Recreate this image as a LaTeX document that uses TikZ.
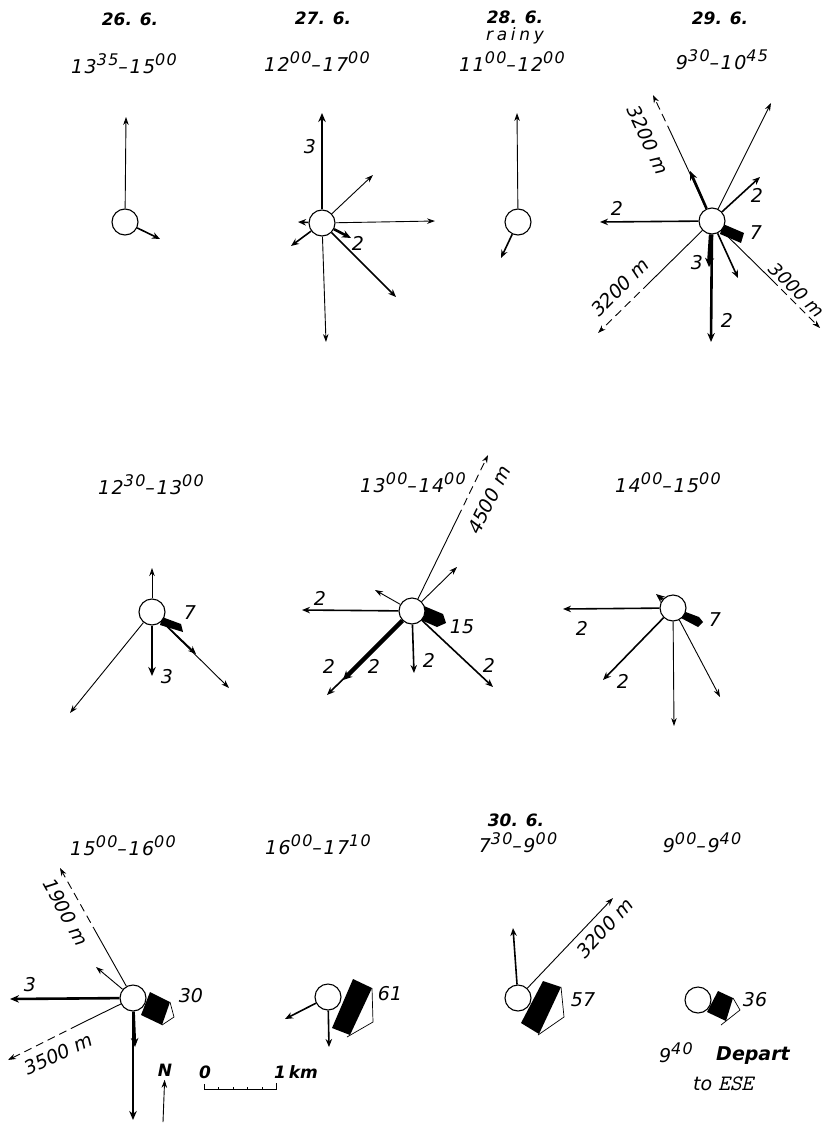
\documentclass[tikz,border=0pt]{standalone}
\usepackage{fontspec}
\setmainfont{DejaVu Sans}
\usetikzlibrary{arrows.meta}

% raised minutes in the time spans
\newcommand{\up}[1]{\raisebox{0.42em}{\fontsize{16}{16}\selectfont #1}}
\newcommand{\period}[4]{#1\up{#2}–#3\up{#4}}

\begin{document}
\begin{tikzpicture}[x=1pt,y=-1pt,
    hive/.style={circle,draw,line width=1.1pt,minimum size=26pt,inner sep=0pt,fill=white},
    path1/.style={line width=0.9pt},
    trip/.style={line width=0.9pt,-{Stealth[length=8pt,width=5.5pt]}},
    trip2/.style={line width=1.6pt,-{Stealth[length=8pt,width=6.5pt]}},
    trip3/.style={line width=2.6pt,-{Stealth[length=9pt,width=7.5pt]}},
    trip4/.style={line width=4.5pt,-{Stealth[length=9pt,width=9pt]}},
    gap/.style={dash pattern=on 8pt off 5pt},
    dance/.style={fill=black},
    fan/.style={line width=0.7pt},
    num/.style={font=\fontsize{19}{19}\selectfont\itshape,inner sep=1pt},
    dist/.style={font=\fontsize{19}{19}\selectfont\itshape,inner sep=1pt},
    day/.style={font=\fontsize{17}{17}\selectfont\bfseries\itshape},
    hour/.style={font=\fontsize{19}{19}\selectfont\itshape\addfontfeature{LetterSpace=8}},
  ]
  % page frame
  \useasboundingbox (0,0) rectangle (831,1124);

  % 26.6.
  \node[day] (d1) at (130,19) {26. 6.};
  \node[hour] (t1) at (124,64) {\period{13}{35}{15}{00}};
  \node[hive] (h1) at (125,222) {};
  \draw[trip] (h1) -- ++(1,-105);
  \draw[trip2] (h1) -- ++(35,17);

  % 27.6.
  \node[day] (d2) at (323,18) {27. 6.};
  \node[hour] (t2) at (317,62) {\period{12}{00}{17}{00}};
  \node[hive] (h2) at (322,223) {};
  \draw[trip3] (h2) -- ++(0,-110);
  \node[num] (n2a) at (310,147) {3};
  \draw[trip] (h2) -- ++(51,-48);
  \draw[trip] (h2) -- ++(113,-2);
  \draw[trip2] (h2) -- ++(-24,-1);
  \draw[trip2] (h2) -- ++(-31,23);
  \draw[trip3] (h2) -- ++(29,15);
  \node[num] (n2b) at (358,243) {2};
  \draw[trip2] (h2) -- ++(74,74);
  \draw[trip] (h2) -- ++(4,119);

  % 28.6.
  \node[day] (d3) at (515,17) {28. 6.};
  \node[font=\fontsize{17}{17}\selectfont\itshape\addfontfeature{LetterSpace=22}] (w3) at (515,36) {rainy};
  \node[hour] (t3) at (512,62) {\period{11}{00}{12}{00}};
  \node[hive] (h3) at (518,222) {};
  \draw[trip] (h3) -- ++(-1,-109);
  \draw[trip2] (h3) -- ++(-17,36);

  % 29.6.
  \node[day] (d4) at (720,18) {29. 6.};
  \node[hour] (t4) at (722,60) {\period{9}{30}{10}{45}};
  \fill[dance] (723,224) -- (744,233) -- (741,243) -- (720,234) -- cycle;
  \node[hive] (h4) at (712,221) {};
  \draw[trip3] (h4) -- ++(-22,-50);
  \draw[path1] (h4) -- ++(-41,-88) coordinate (e4a);
  \draw[trip,gap] (e4a) -- ++(-18,-38);
  \node[dist,rotate=-65] (m4a) at (648,140) {3200 m};
  \draw[trip] (h4) -- ++(59,-118);
  \draw[trip2] (h4) -- ++(48,-44);
  \node[num] (n4b) at (757,195) {2};
  \draw[trip2] (h4) -- ++(-112,1);
  \node[num] (n4c) at (617,208) {2};
  \node[num] (n4d) at (756,233) {7};
  \draw[path1] (h4) -- ++(-63,62) coordinate (e4b);
  \draw[trip,gap] (e4b) -- ++(-51,50);
  \node[dist,rotate=45] (m4b) at (620,287) {3200 m};
  \draw[trip3] (h4) -- ++(-1,121);
  \node[num] (n4e) at (727,320) {2};
  \draw[trip4] (h4) -- ++(-3,46);
  \node[num] (n4f) at (697,263) {3};
  \draw[trip2] (h4) -- ++(26,57);
  \draw[path1] (h4) -- ++(60,59) coordinate (e4c);
  \draw[trip,gap] (e4c) -- ++(48,48);
  \node[dist,rotate=-45,font=\fontsize{18}{18}\selectfont\itshape] (m4c) at (797,290) {3000 m};

  % 12.30 - 13.00
  \node[hour] (t5) at (151,485) {\period{12}{30}{13}{00}};
  \fill[dance] (162,617) -- (181,624) -- (183,632) -- (160,625) -- cycle;
  \node[hive] (h5) at (152,612) {};
  \draw[trip] (h5) -- ++(0,-44);
  \draw[trip3] (h5) -- ++(0,64);
  \node[num] (n5a) at (167,677) {3};
  \draw[trip2] (h5) -- ++(44,42);
  \draw[trip] (h5) -- ++(77,76);
  \node[num] (n5b) at (190,613) {7};
  \draw[trip] (h5) -- ++(-82,101);

  % 13.00 - 14.00
  \node[hour] (t6) at (413,483) {\period{13}{00}{14}{00}};
  \fill[dance] (424,606) -- (443,614) -- (446,623) -- (437,627) -- (421,620) -- cycle;
  \node[hive] (h6) at (412,611) {};
  \draw[path1] (h6) -- ++(46,-94) coordinate (e6a);
  \draw[trip,gap] (e6a) -- ++(30,-62);
  \node[dist,rotate=64] (m6a) at (489,500) {4500 m};
  \draw[trip] (h6) -- ++(45,-44);
  \draw[trip] (h6) -- ++(-37,-21);
  \draw[trip2] (h6) -- ++(-110,-1);
  \node[num] (n6a) at (320,598) {2};
  \draw[trip2] (h6) -- ++(-85,84);
  \draw[trip4] (h6) -- ++(-69,69);
  \node[num] (n6b) at (329,666) {2};
  \node[num] (n6c) at (374,666) {2};
  \draw[trip2] (h6) -- ++(2,62);
  \node[num] (n6d) at (429,660) {2};
  \node[num] (n6e) at (462,627) {15};
  \draw[trip2] (h6) -- ++(81,76);
  \node[num] (n6f) at (489,665) {2};

  % 14.00 - 15.00
  \node[hour] (t7) at (668,483) {\period{14}{00}{15}{00}};
  \fill[dance] (683,611) -- (699,617) -- (703,622) -- (698,627) -- (681,618) -- cycle;
  \node[hive] (h7) at (673,608) {};
  \draw[trip3] (h7) -- ++(-17,-14);
  \draw[trip2] (h7) -- ++(-110,1);
  \node[num] (n7a) at (582,628) {2};
  \node[num] (n7b) at (715,620) {7};
  \draw[trip2] (h7) -- ++(-70,72);
  \node[num] (n7c) at (623,681) {2};
  \draw[trip] (h7) -- ++(1,118);
  \draw[trip] (h7) -- ++(47,89);

  % 15.00 - 16.00
  \node[hour] (t8) at (123,846) {\period{15}{00}{16}{00}};
  \fill[dance] (150,992) -- (170,1002) -- (162,1025) -- (141,1015) -- cycle;
  \draw[fan] (170,1002) -- (174,1017) -- (162,1025);
  \node[hive] (h8) at (133,998) {};
  \draw[path1] (h8) -- ++(-36,-64) coordinate (e8a);
  \draw[trip,gap] (e8a) -- ++(-37,-66);
  \node[dist,rotate=-61] (m8a) at (66,912) {1900 m};
  \draw[trip] (h8) -- ++(-37,-31);
  \draw[trip3] (h8) -- ++(-123,1);
  \node[num] (n8a) at (30,985) {3};
  \draw[path1] (h8) -- ++(-55,27) coordinate (e8b);
  \draw[trip,gap] (e8b) -- ++(-70,35);
  \node[dist,rotate=25] (m8b) at (58,1054) {3500 m};
  \draw[trip3] (h8) -- ++(0,122);
  \draw[trip3] (h8) -- ++(2,49);
  \node[num] (n8b) at (191,996) {30};

  % north arrow and scale bar
  \node[day] (north) at (165,1070) {N};
  \coordinate (nfoot) at (163,1122);
  \draw[trip] (nfoot) -- (north);
  \node[day] (s0) at (205,1072) {0};
  \node[day] (s1) at (296,1072) {1\,km};
  \draw[fan] (204,1084) -- (204,1089) -- (276,1089) -- (276,1083);
  \foreach \x in {218,233,247,262} \draw[fan] (\x,1089) -- (\x,1087);

  % 16.00 - 17.10
  \node[hour] (t9) at (318,845) {\period{16}{00}{17}{10}};
  \fill[dance] (353,979) -- (372,988) -- (350,1035) -- (332,1028) -- cycle;
  \draw[fan] (372,988) -- (373,1022) -- (347,1037);
  \node[hive] (h9) at (328,997) {};
  \draw[trip2] (h9) -- ++(-43,22);
  \draw[trip2] (h9) -- ++(1,50);
  \node[num] (n9a) at (390,994) {61};

  % 30.6. 7.30 - 9.00
  \node[day] (d10) at (516,820) {30. 6.};
  \node[hour] (t10) at (518,843) {\period{7}{30}{9}{00}};
  \fill[dance] (543,981) -- (561,987) -- (539,1034) -- (521,1023) -- cycle;
  \draw[fan] (561,987) -- (564,1017) -- (538,1035);
  \node[hive] (h10) at (518,998) {};
  \draw[trip2] (h10) -- ++(-5,-70);
  \draw[trip] (h10) -- ++(95,-100);
  \node[dist,rotate=48] (m10a) at (605,928) {3200 m};
  \node[num] (n10a) at (583,1000) {57};

  % 9.00 - 9.40, departure
  \node[hour] (t11) at (702,843) {\period{9}{00}{9}{40}};
  \fill[dance] (718,991) -- (733,998) -- (726,1021) -- (707,1012) -- cycle;
  \draw[fan] (733,998) -- (740,1010) -- (721,1025);
  \node[hive] (h11) at (698,1000) {};
  \node[num] (n11a) at (755,1000) {36};
  \node[hour] (t12) at (676,1053) {9\up{40}};
  \node[font=\fontsize{19}{19}\selectfont\bfseries\itshape] (dep) at (753,1056) {Depart};
  \node[num] (ese) at (723,1084) {to {\ttfamily\fontsize{22}{22}\selectfont ESE}};
\end{tikzpicture}
\end{document}
